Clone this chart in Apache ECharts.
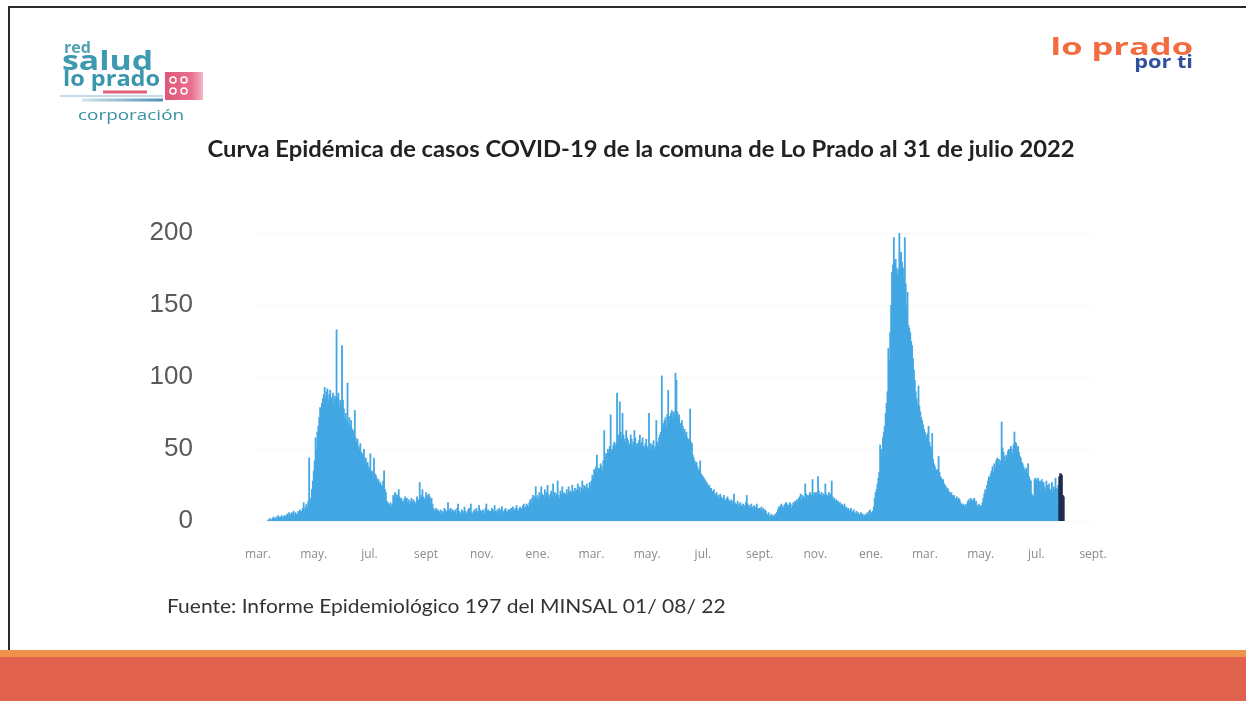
<!DOCTYPE html>
<html><head><meta charset="utf-8">
<script src="https://cdn.jsdelivr.net/npm/echarts@6/dist/echarts.min.js"></script>
<style>html,body{margin:0;padding:0;background:#fff}#chart{width:1246px;height:701px}</style>
</head><body><div id="chart"></div>
<script>
// Daily COVID-19 cases, Lo Prado
// 2020: Mar 1 .. Dec 31
const cases2020 = [
 0,0,0,0,0,0,0,0,0,0, 0,1,0,2,1,1,2,3,2,1, 3,2,4,3,2,3,4,2,3,4, 3,
 4,5,3,6,5,4,6,5,7,4, 6,5,5,7,6,8,6,7,9,13, 8,10,12,9,14,44,12,16,22,28,
 35,42,58,50,62,66,72,79,75,82, 85,88,93,86,90,92,84,88,91,86, 84,89,82,87,85,133,86,89,80,84, 82,
 122,84,78,72,75,70,96,68,72,66, 70,64,63,60,77,58,55,57,52,50, 54,48,47,45,50,42,44,40,41,38,
 36,47,34,35,30,44,33,32,30,28, 29,26,27,25,24,28,35,22,20,14, 13,12,11,13,10,12,18,17,20,19, 16,
 18,22,17,15,16,14,13,15,17,14, 16,13,15,12,14,16,13,15,14,12, 13,17,15,14,27,16,18,22,17,15, 16,
 20,18,16,19,17,15,16,12,9,8, 7,9,6,8,7,6,8,5,7,6, 9,8,6,7,13,8,7,9,6,8,
 7,6,8,5,9,12,7,6,5,8, 7,6,10,7,5,6,8,9,7,12, 6,5,7,8,6,9,7,6,11,8, 7,
 6,8,7,5,9,12,7,8,6,7, 5,9,8,6,11,7,6,8,7,9, 5,8,10,7,6,8,9,7,6,8,
 8,7,9,8,10,7,8,9,11,8, 7,9,10,8,9,11,12,9,10,12, 11,10,13,15,12,16,18,15,17,24, 16
];
// 2021: Jan 1 .. Dec 31
const cases2021 = [
 18,15,20,17,24,19,16,18,22,17, 20,25,18,16,19,21,17,26,18,20, 17,19,28,18,16,21,19,24,18,20, 17,
 19,22,18,24,20,21,19,25,21,18, 23,20,22,26,21,24,20,23,28,22, 25,21,24,26,23,22,27,25,
 28,32,30,36,35,38,46,34,37,36, 40,38,35,42,63,44,47,45,50,48, 52,74,49,50,53,55,52,54,89,58, 60,
 83,62,58,75,60,57,55,63,58,56, 52,54,60,57,53,55,63,58,52,54, 51,56,60,53,55,58,52,51,54,57,
 50,52,75,49,54,51,53,56,50,52, 70,55,53,58,60,62,101,65,68,70, 72,66,74,91,70,73,75,77,72,76, 74,
 103,98,76,72,74,68,65,70,66,62, 64,60,62,58,57,56,78,55,54,46, 44,42,40,41,38,36,35,42,33,32,
 31,30,29,28,27,26,24,25,22,23, 21,20,22,19,18,20,17,18,16,19, 17,15,16,18,15,14,16,17,15,14, 13,
 15,12,14,19,13,11,12,14,10,12, 13,11,9,12,10,11,13,18,12,10, 11,9,12,10,8,11,9,10,12,8, 9,
 9,8,10,7,9,6,8,7,5,4, 6,3,4,5,3,4,3,5,4,6, 8,10,9,11,12,10,9,11,12,13,
 12,10,11,13,12,9,11,13,12,14, 11,15,13,16,17,19,15,18,17,16, 26,19,15,18,17,20,19,18,29,18, 20,
 19,20,18,31,21,19,18,20,17,19, 18,26,19,17,18,20,16,19,28,17, 15,16,14,15,13,14,12,13,11,12,
 11,10,12,9,10,8,9,7,8,9, 7,6,8,6,5,7,5,6,4,5, 6,4,5,3,4,5,4,6,5,7, 8
];
// 2022: Jan 1 .. Jul 25
const cases2022 = [
 5,6,7,10,16,20,22,26,30,34, 53,45,50,58,62,66,75,82,90,120, 112,131,150,173,178,197,180,182,176,171, 175,
 202,185,187,180,176,170,197,165,150,159, 136,134,131,125,122,113,105,98,90,85, 81,94,80,76,72,70,67,64,
 62,60,58,61,66,55,52,50,61,43, 40,38,36,35,36,45,34,31,30,28, 29,26,25,24,22,23,21,20,19,20, 18,
 17,18,16,15,17,14,16,15,13,12, 11,12,10,11,12,10,14,15,13,16, 15,14,15,16,13,14,11,10,12,10,
 11,10,13,16,19,22,20,25,28,31, 30,33,35,38,34,40,37,42,44,41, 43,39,42,69,51,48,45,42,46,44, 49,
 50,48,52,50,47,53,62,55,54,50, 52,48,45,44,41,40,38,36,35,37, 33,40,31,29,28,19,18,17,29,30,
 29,28,30,27,28,25,29,26,27,24, 22,28,25,23,26,22,21,27,20,24, 22,30,23,22,25
];
// Most recent days (Jul 26 .. Jul 31, 2022), drawn darker
const casesRecent = [31,33,33,32,18,17];

const tickLabels = ['mar.','may.','jul.','sept','nov.','ene.','mar.','may.','jul.','sept.','nov.','ene.','mar.','may.','jul.','sept.'];
const yMin = 0, yMax = 200, yStep = 50;

const dates = [];
for (let t = Date.UTC(2020,2,1); t <= Date.UTC(2022,8,1); t += 86400000) {
  dates.push(new Date(t).toISOString().slice(0,10));
}
const confirmed = cases2020.concat(cases2021, cases2022);
const mainData = dates.map((d,i) => i < confirmed.length ? confirmed[i] : null);
const recentData = dates.map((d,i) => {
  const j = i - confirmed.length;
  return (j >= 0 && j < casesRecent.length) ? casesRecent[j] : null;
});
function monthOffset(v){ const y=+v.slice(0,4), m=+v.slice(5,7); return (y-2020)*12 + (m-3); }

const chart = echarts.init(document.getElementById('chart'), null, {renderer:'canvas'});
const teal = '#3d9ab0';
const mid = {textVerticalAlign:'middle', verticalAlign:'middle'};
chart.setOption({
  animation:false,
  backgroundColor:'#ffffff',
  grid:{left:258, right:153, top:233, bottom:180, containLabel:false},
  xAxis:{
    type:'category', data:dates, boundaryGap:false,
    axisLine:{show:false}, axisTick:{show:false}, splitLine:{show:false},
    axisLabel:{
      interval:(idx,v)=> v.slice(8)==='01' && monthOffset(v)%2===0,
      formatter:(v)=> tickLabels[monthOffset(v)/2],
      color:'#8a8a8a', fontSize:12, fontFamily:'Open Sans', margin:28
    }
  },
  yAxis:{
    type:'value', min:yMin, max:yMax, interval:yStep,
    axisLine:{show:false}, axisTick:{show:false},
    splitLine:{lineStyle:{color:'#f7f7f7', width:1}},
    axisLabel:{color:'#5a5a5a', fontSize:26, fontFamily:'Liberation Sans', margin:65}
  },
  series:[
    {type:'bar', data:mainData, barWidth:1.8, barGap:'-100%', itemStyle:{color:'#42a7e3'}},
    {type:'bar', data:recentData, barWidth:1.8, barGap:'-100%', itemStyle:{color:'#1f2d50'}}
  ],
  graphic:[
    // frame
    {type:'line', shape:{x1:8,y1:7,x2:1246,y2:7}, style:{stroke:'#2a2a2a', lineWidth:2}},
    {type:'line', shape:{x1:9,y1:7,x2:9,y2:652}, style:{stroke:'#2a2a2a', lineWidth:2}},
    // bottom band
    {type:'rect', shape:{x:0,y:650,width:1246,height:8}, style:{fill:'#f0914c'}},
    {type:'rect', shape:{x:0,y:657,width:1246,height:44}, style:{fill:'#df614e'}},
    // title
    {type:'text', x:641, y:150, scaleX:1.08, style:Object.assign({text:'Curva Epidémica de casos COVID-19 de la comuna de Lo Prado al 31 de julio 2022',
      font:'bold 22px Lato', fill:'#222', textAlign:'center', align:'center'}, mid)},
    // source
    {type:'text', x:167, y:607, scaleX:1.05, style:Object.assign({text:'Fuente: Informe Epidemiológico 197 del MINSAL 01/ 08/ 22',
      font:'20px Lato', fill:'#333', textAlign:'left', align:'left'}, mid)},
    // left logo
    {type:'text', x:64, y:48, style:Object.assign({text:'red', font:'bold 16px "Open Sans"', fill:'#4fa0b3'}, mid)},
    {type:'text', x:62, y:62, scaleX:1.25, style:Object.assign({text:'salud', font:'bold 27px "Open Sans"', fill:teal}, mid)},
    {type:'text', x:63, y:80, scaleX:1.12, style:Object.assign({text:'lo prado', font:'bold 21px "Open Sans"', fill:'#3b96ad'}, mid)},
    {type:'rect', shape:{x:165,y:72,width:38,height:28}, style:{fill:new echarts.graphic.LinearGradient(0,0,1,0,[{offset:0,color:'#e2567a'},{offset:0.7,color:'#e8708f'},{offset:1,color:'#f4b5c6'}])}},
    {type:'circle', shape:{cx:173,cy:80,r:3}, style:{fill:'none', stroke:'#fff', lineWidth:1.5}},
    {type:'circle', shape:{cx:184,cy:80,r:3}, style:{fill:'none', stroke:'#fff', lineWidth:1.5}},
    {type:'circle', shape:{cx:173,cy:91,r:3}, style:{fill:'none', stroke:'#fff', lineWidth:1.5}},
    {type:'circle', shape:{cx:184,cy:91,r:3}, style:{fill:'none', stroke:'#fff', lineWidth:1.5}},
    {type:'line', shape:{x1:103,y1:92,x2:147,y2:92}, style:{stroke:'#e0607c', lineWidth:3}},
    {type:'line', shape:{x1:60,y1:96,x2:163,y2:96}, style:{stroke:'#c3dbe7', lineWidth:2}},
    {type:'line', shape:{x1:82,y1:100,x2:163,y2:100}, style:{stroke:new echarts.graphic.LinearGradient(0,0,1,0,[{offset:0,color:'#d3e6f0'},{offset:1,color:'#4b8fb6'}]), lineWidth:3}},
    {type:'text', x:78, y:116, scaleX:1.35, style:Object.assign({text:'corporación', font:'14px "Open Sans"', fill:'#3a8fa4'}, mid)},
    // right logo
    {type:'text', x:1193, y:48, scaleX:1.5, style:Object.assign({text:'lo prado', font:'bold 23px "Open Sans"', fill:'#f26c3f', textAlign:'right', align:'right'}, mid)},
    {type:'text', x:1193, y:63, scaleX:1.28, style:Object.assign({text:'por ti', font:'bold 17px "Open Sans"', fill:'#2f4f9f', textAlign:'right', align:'right'}, mid)}
  ]
});
</script></body></html>
